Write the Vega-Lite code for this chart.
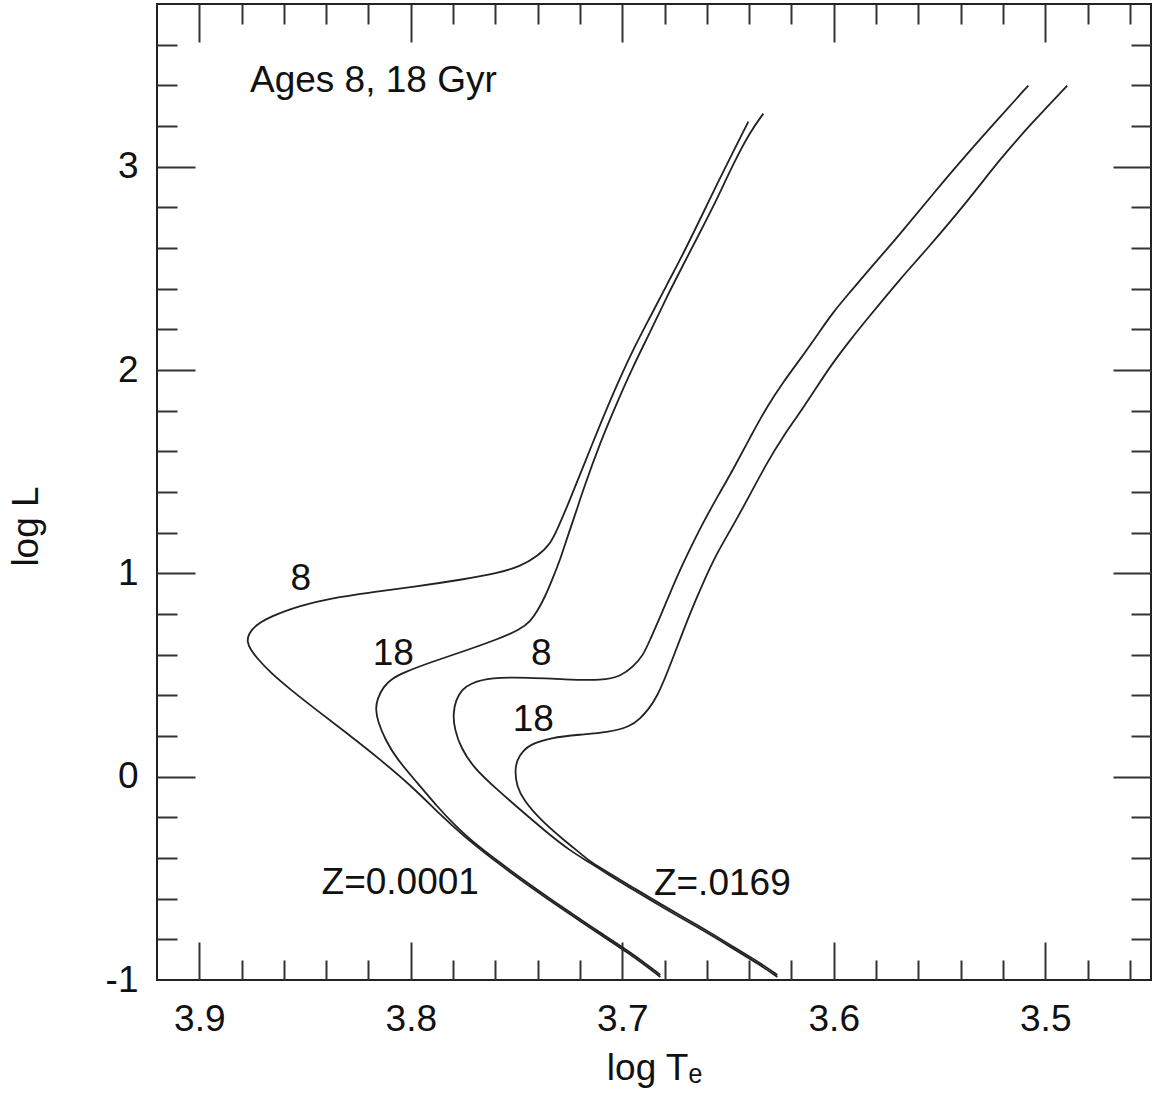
{
  "$schema": "https://vega.github.io/schema/vega-lite/v6.json",
  "width": 994,
  "height": 976,
  "autosize": {"type": "none"},
  "padding": {"left": 157, "top": 4, "right": 4, "bottom": 122},
  "background": "white",
  "config": {
    "view": {"stroke": "#222", "strokeWidth": 2},
    "font": "Liberation Sans",
    "axis": {"labelFont": "Liberation Sans", "titleFont": "Liberation Sans", "labelColor": "#111", "titleColor": "#111", "grid": false, "domain": false, "tickColor": "#333", "tickWidth": 2, "titleFontWeight": "normal"}
  },
  "datasets": {
    "curves": [
      {"c":"A","i":-1,"x":3.6820,"y":-0.985},{"c":"A","i":0,"x":3.6820,"y":-0.985},{"c":"A","i":1,"x":3.6962,"y":-0.872},{"c":"A","i":2,"x":3.7118,"y":-0.768},{"c":"A","i":3,"x":3.7279,"y":-0.655},{"c":"A","i":4,"x":3.7435,"y":-0.542},{"c":"A","i":5,"x":3.7591,"y":-0.424},{"c":"A","i":6,"x":3.7752,"y":-0.291},{"c":"A","i":7,"x":3.7861,"y":-0.187},{"c":"A","i":8,"x":3.7988,"y":-0.054},{"c":"A","i":9,"x":3.8144,"y":0.084},{"c":"A","i":10,"x":3.8300,"y":0.212},{"c":"A","i":11,"x":3.8461,"y":0.340},{"c":"A","i":12,"x":3.8570,"y":0.429},{"c":"A","i":13,"x":3.8664,"y":0.512},{"c":"A","i":14,"x":3.8721,"y":0.576},{"c":"A","i":15,"x":3.8759,"y":0.626},{"c":"A","i":16,"x":3.8775,"y":0.665},{"c":"A","i":17,"x":3.8766,"y":0.704},{"c":"A","i":18,"x":3.8735,"y":0.744},{"c":"A","i":19,"x":3.8664,"y":0.788},{"c":"A","i":20,"x":3.8522,"y":0.842},{"c":"A","i":21,"x":3.8381,"y":0.877},{"c":"A","i":22,"x":3.8191,"y":0.906},{"c":"A","i":23,"x":3.8002,"y":0.931},{"c":"A","i":24,"x":3.7752,"y":0.970},{"c":"A","i":25,"x":3.7591,"y":1.000},{"c":"A","i":26,"x":3.7482,"y":1.034},{"c":"A","i":27,"x":3.7402,"y":1.084},{"c":"A","i":28,"x":3.7340,"y":1.143},{"c":"A","i":29,"x":3.7303,"y":1.227},{"c":"A","i":30,"x":3.7260,"y":1.330},{"c":"A","i":31,"x":3.7184,"y":1.527},{"c":"A","i":32,"x":3.7104,"y":1.734},{"c":"A","i":33,"x":3.7024,"y":1.931},{"c":"A","i":34,"x":3.6948,"y":2.103},{"c":"A","i":35,"x":3.6868,"y":2.261},{"c":"A","i":36,"x":3.6787,"y":2.424},{"c":"A","i":37,"x":3.6712,"y":2.571},{"c":"A","i":38,"x":3.6631,"y":2.744},{"c":"A","i":39,"x":3.6551,"y":2.916},{"c":"A","i":40,"x":3.6475,"y":3.074},{"c":"A","i":41,"x":3.6404,"y":3.222},{"c":"A","i":42,"x":3.6404,"y":3.222},
      {"c":"B","i":-1,"x":3.6820,"y":-0.975},{"c":"B","i":0,"x":3.6820,"y":-0.975},{"c":"B","i":1,"x":3.6962,"y":-0.862},{"c":"B","i":2,"x":3.7118,"y":-0.759},{"c":"B","i":3,"x":3.7279,"y":-0.645},{"c":"B","i":4,"x":3.7435,"y":-0.532},{"c":"B","i":5,"x":3.7591,"y":-0.414},{"c":"B","i":6,"x":3.7719,"y":-0.310},{"c":"B","i":7,"x":3.7780,"y":-0.251},{"c":"B","i":8,"x":3.7875,"y":-0.148},{"c":"B","i":9,"x":3.7969,"y":-0.030},{"c":"B","i":10,"x":3.8064,"y":0.084},{"c":"B","i":11,"x":3.8121,"y":0.182},{"c":"B","i":12,"x":3.8156,"y":0.271},{"c":"B","i":13,"x":3.8166,"y":0.330},{"c":"B","i":14,"x":3.8160,"y":0.379},{"c":"B","i":15,"x":3.8130,"y":0.443},{"c":"B","i":16,"x":3.8087,"y":0.483},{"c":"B","i":17,"x":3.8035,"y":0.512},{"c":"B","i":18,"x":3.7908,"y":0.562},{"c":"B","i":19,"x":3.7752,"y":0.616},{"c":"B","i":20,"x":3.7591,"y":0.675},{"c":"B","i":21,"x":3.7482,"y":0.724},{"c":"B","i":22,"x":3.7435,"y":0.764},{"c":"B","i":23,"x":3.7402,"y":0.813},{"c":"B","i":24,"x":3.7364,"y":0.887},{"c":"B","i":25,"x":3.7331,"y":0.970},{"c":"B","i":26,"x":3.7293,"y":1.069},{"c":"B","i":27,"x":3.7260,"y":1.177},{"c":"B","i":28,"x":3.7222,"y":1.291},{"c":"B","i":29,"x":3.7184,"y":1.414},{"c":"B","i":30,"x":3.7104,"y":1.645},{"c":"B","i":31,"x":3.7024,"y":1.842},{"c":"B","i":32,"x":3.6948,"y":2.020},{"c":"B","i":33,"x":3.6868,"y":2.187},{"c":"B","i":34,"x":3.6787,"y":2.365},{"c":"B","i":35,"x":3.6712,"y":2.517},{"c":"B","i":36,"x":3.6631,"y":2.680},{"c":"B","i":37,"x":3.6551,"y":2.842},{"c":"B","i":38,"x":3.6475,"y":3.015},{"c":"B","i":39,"x":3.6395,"y":3.172},{"c":"B","i":40,"x":3.6333,"y":3.261},{"c":"B","i":41,"x":3.6333,"y":3.261},
      {"c":"C","i":-1,"x":3.6267,"y":-0.985},{"c":"C","i":0,"x":3.6267,"y":-0.985},{"c":"C","i":1,"x":3.6333,"y":-0.936},{"c":"C","i":2,"x":3.6489,"y":-0.837},{"c":"C","i":3,"x":3.6645,"y":-0.739},{"c":"C","i":4,"x":3.6806,"y":-0.645},{"c":"C","i":5,"x":3.6962,"y":-0.547},{"c":"C","i":6,"x":3.7057,"y":-0.488},{"c":"C","i":7,"x":3.7151,"y":-0.424},{"c":"C","i":8,"x":3.7246,"y":-0.365},{"c":"C","i":9,"x":3.7355,"y":-0.276},{"c":"C","i":10,"x":3.7482,"y":-0.163},{"c":"C","i":11,"x":3.7591,"y":-0.064},{"c":"C","i":12,"x":3.7704,"y":0.044},{"c":"C","i":13,"x":3.7766,"y":0.148},{"c":"C","i":14,"x":3.7792,"y":0.232},{"c":"C","i":15,"x":3.7801,"y":0.305},{"c":"C","i":16,"x":3.7787,"y":0.379},{"c":"C","i":17,"x":3.7757,"y":0.429},{"c":"C","i":18,"x":3.7719,"y":0.458},{"c":"C","i":19,"x":3.7624,"y":0.488},{"c":"C","i":20,"x":3.7435,"y":0.488},{"c":"C","i":21,"x":3.7279,"y":0.478},{"c":"C","i":22,"x":3.7090,"y":0.473},{"c":"C","i":23,"x":3.7009,"y":0.493},{"c":"C","i":24,"x":3.6948,"y":0.542},{"c":"C","i":25,"x":3.6901,"y":0.596},{"c":"C","i":26,"x":3.6868,"y":0.675},{"c":"C","i":27,"x":3.6820,"y":0.788},{"c":"C","i":28,"x":3.6773,"y":0.906},{"c":"C","i":29,"x":3.6726,"y":1.020},{"c":"C","i":30,"x":3.6664,"y":1.153},{"c":"C","i":31,"x":3.6617,"y":1.251},{"c":"C","i":32,"x":3.6546,"y":1.384},{"c":"C","i":33,"x":3.6475,"y":1.512},{"c":"C","i":34,"x":3.6395,"y":1.670},{"c":"C","i":35,"x":3.6314,"y":1.823},{"c":"C","i":36,"x":3.6239,"y":1.941},{"c":"C","i":37,"x":3.6158,"y":2.054},{"c":"C","i":38,"x":3.6078,"y":2.172},{"c":"C","i":39,"x":3.6002,"y":2.286},{"c":"C","i":40,"x":3.5922,"y":2.384},{"c":"C","i":41,"x":3.5842,"y":2.483},{"c":"C","i":42,"x":3.5747,"y":2.596},{"c":"C","i":43,"x":3.5686,"y":2.670},{"c":"C","i":44,"x":3.5530,"y":2.867},{"c":"C","i":45,"x":3.5369,"y":3.064},{"c":"C","i":46,"x":3.5213,"y":3.246},{"c":"C","i":47,"x":3.5080,"y":3.399},{"c":"C","i":48,"x":3.5080,"y":3.399},
      {"c":"D","i":-1,"x":3.6267,"y":-0.975},{"c":"D","i":0,"x":3.6267,"y":-0.975},{"c":"D","i":1,"x":3.6333,"y":-0.926},{"c":"D","i":2,"x":3.6489,"y":-0.828},{"c":"D","i":3,"x":3.6645,"y":-0.729},{"c":"D","i":4,"x":3.6806,"y":-0.635},{"c":"D","i":5,"x":3.6962,"y":-0.537},{"c":"D","i":6,"x":3.7057,"y":-0.478},{"c":"D","i":7,"x":3.7151,"y":-0.419},{"c":"D","i":8,"x":3.7184,"y":-0.389},{"c":"D","i":9,"x":3.7279,"y":-0.310},{"c":"D","i":10,"x":3.7388,"y":-0.212},{"c":"D","i":11,"x":3.7468,"y":-0.113},{"c":"D","i":12,"x":3.7498,"y":-0.049},{"c":"D","i":13,"x":3.7508,"y":0.025},{"c":"D","i":14,"x":3.7498,"y":0.084},{"c":"D","i":15,"x":3.7468,"y":0.128},{"c":"D","i":16,"x":3.7435,"y":0.158},{"c":"D","i":17,"x":3.7340,"y":0.192},{"c":"D","i":18,"x":3.7199,"y":0.207},{"c":"D","i":19,"x":3.7071,"y":0.217},{"c":"D","i":20,"x":3.6962,"y":0.246},{"c":"D","i":21,"x":3.6915,"y":0.286},{"c":"D","i":22,"x":3.6877,"y":0.330},{"c":"D","i":23,"x":3.6835,"y":0.394},{"c":"D","i":24,"x":3.6787,"y":0.512},{"c":"D","i":25,"x":3.6740,"y":0.640},{"c":"D","i":26,"x":3.6678,"y":0.808},{"c":"D","i":27,"x":3.6617,"y":0.956},{"c":"D","i":28,"x":3.6551,"y":1.103},{"c":"D","i":29,"x":3.6480,"y":1.227},{"c":"D","i":30,"x":3.6395,"y":1.389},{"c":"D","i":31,"x":3.6314,"y":1.547},{"c":"D","i":32,"x":3.6239,"y":1.675},{"c":"D","i":33,"x":3.6158,"y":1.793},{"c":"D","i":34,"x":3.6078,"y":1.921},{"c":"D","i":35,"x":3.6002,"y":2.039},{"c":"D","i":36,"x":3.5922,"y":2.148},{"c":"D","i":37,"x":3.5842,"y":2.251},{"c":"D","i":38,"x":3.5686,"y":2.448},{"c":"D","i":39,"x":3.5558,"y":2.596},{"c":"D","i":40,"x":3.5369,"y":2.828},{"c":"D","i":41,"x":3.5213,"y":3.039},{"c":"D","i":42,"x":3.5057,"y":3.222},{"c":"D","i":43,"x":3.4896,"y":3.399},{"c":"D","i":44,"x":3.4896,"y":3.399}
    ],
    "labels": [
      {"t":"Ages 8, 18 Gyr","x":3.8177,"y":3.419},
      {"t":"8","x":3.852,"y":0.970},
      {"t":"18","x":3.8083,"y":0.601},
      {"t":"8","x":3.7383,"y":0.601},
      {"t":"18","x":3.7421,"y":0.281},
      {"t":"Z=0.0001","x":3.805,"y":-0.522},
      {"t":"Z=.0169","x":3.6527,"y":-0.527}
    ]
  },
  "resolve": {"axis": {"x": "independent", "y": "independent"}},
  "layer": [
    {
      "data": {"name": "curves"},
      "mark": {"type": "line", "color": "#222", "strokeWidth": 1.8, "interpolate": "basis"},
      "encoding": {
        "x": {"field": "x", "type": "quantitative", "scale": {"domain": [3.45, 3.92], "reverse": true, "nice": false, "zero": false},
              "axis": {"orient": "bottom", "values": [3.9, 3.8, 3.7, 3.6, 3.5], "ticks": false, "labelFontSize": 37, "labelPadding": 21, "labelExpr": "format(datum.value, '.1f')", "title": "log Tₑ", "titleFontSize": 37, "titlePadding": 13}},
        "y": {"field": "y", "type": "quantitative", "scale": {"domain": [-1, 3.8], "nice": false, "zero": false},
              "axis": {"orient": "left", "values": [-1, 0, 1, 2, 3], "ticks": false, "labelFontSize": 37, "labelPadding": 19, "labelExpr": "toString(datum.value)", "title": "log L", "titleFontSize": 37, "titlePadding": 60, "titleY": 522}},
        "detail": {"field": "c"},
        "order": {"field": "i", "type": "quantitative"}
      }
    },
    {
      "data": {"name": "curves"},
      "mark": {"type": "point", "opacity": 0},
      "encoding": {
        "x": {"field": "x", "type": "quantitative", "axis": {"orient": "bottom", "values": [3.9, 3.8, 3.7, 3.6, 3.5], "tickSize": -38, "labels": false, "title": null}},
        "y": {"field": "y", "type": "quantitative", "axis": {"orient": "left", "values": [0, 1, 2, 3], "tickSize": -38, "labels": false, "title": null}}
      }
    },
    {
      "data": {"name": "curves"},
      "mark": {"type": "point", "opacity": 0},
      "encoding": {
        "x": {"field": "x", "type": "quantitative", "axis": {"orient": "bottom", "values": [3.88,3.86,3.84,3.82,3.78,3.76,3.74,3.72,3.68,3.66,3.64,3.62,3.58,3.56,3.54,3.52,3.48,3.46], "tickSize": -20, "labels": false, "title": null}},
        "y": {"field": "y", "type": "quantitative", "axis": {"orient": "left", "values": [-0.8,-0.6,-0.4,-0.2,0.2,0.4,0.6,0.8,1.2,1.4,1.6,1.8,2.2,2.4,2.6,2.8,3.2,3.4,3.6], "tickSize": -20, "labels": false, "title": null}}
      }
    },
    {
      "data": {"name": "curves"},
      "mark": {"type": "point", "opacity": 0},
      "encoding": {
        "x": {"field": "x", "type": "quantitative", "axis": {"orient": "top", "values": [3.9, 3.8, 3.7, 3.6, 3.5], "tickSize": -38, "labels": false, "title": null}},
        "y": {"field": "y", "type": "quantitative", "axis": {"orient": "right", "values": [0, 1, 2, 3], "tickSize": -38, "labels": false, "title": null}}
      }
    },
    {
      "data": {"name": "curves"},
      "mark": {"type": "point", "opacity": 0},
      "encoding": {
        "x": {"field": "x", "type": "quantitative", "axis": {"orient": "top", "values": [3.88,3.86,3.84,3.82,3.78,3.76,3.74,3.72,3.68,3.66,3.64,3.62,3.58,3.56,3.54,3.52,3.48,3.46], "tickSize": -20, "labels": false, "title": null}},
        "y": {"field": "y", "type": "quantitative", "axis": {"orient": "right", "values": [-0.8,-0.6,-0.4,-0.2,0.2,0.4,0.6,0.8,1.2,1.4,1.6,1.8,2.2,2.4,2.6,2.8,3.2,3.4,3.6], "tickSize": -20, "labels": false, "title": null}}
      }
    },
    {
      "data": {"name": "labels"},
      "mark": {"type": "text", "fontSize": 37, "font": "Liberation Sans", "color": "#111", "align": "center", "baseline": "middle"},
      "encoding": {
        "x": {"field": "x", "type": "quantitative", "axis": null},
        "y": {"field": "y", "type": "quantitative", "axis": null},
        "text": {"field": "t"}
      }
    }
  ]
}
